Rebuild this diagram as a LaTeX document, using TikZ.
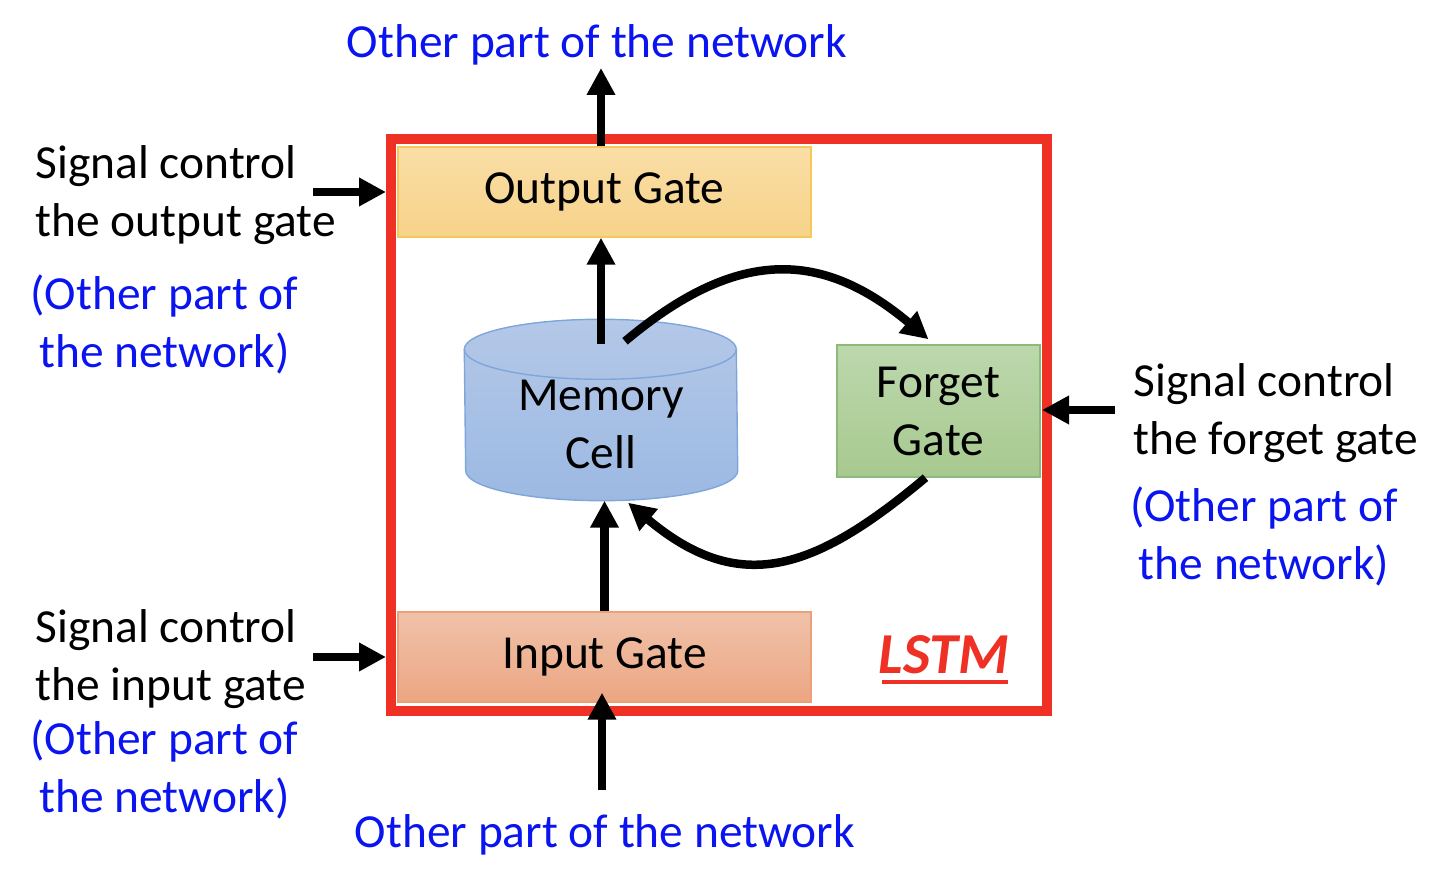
\documentclass[tikz,border=0pt]{standalone}
\usepackage{xcolor}
\usepackage{fontspec}
\setmainfont{Carlito}
\usepackage{tikz}
\usetikzlibrary{shapes, shapes.geometric, arrows.meta, positioning, calc}

\definecolor{framered}{HTML}{EE3124}
\definecolor{netblue}{HTML}{0A14F0}
\definecolor{ogtop}{HTML}{FADEA6}
\definecolor{ogbot}{HTML}{F7D38A}
\definecolor{ogline}{HTML}{F6C858}
\definecolor{igtop}{HTML}{F0C2AA}
\definecolor{igbot}{HTML}{ECA682}
\definecolor{igline}{HTML}{EDA077}
\definecolor{fgtop}{HTML}{BCD8AD}
\definecolor{fgbot}{HTML}{A7C98F}
\definecolor{fgline}{HTML}{8DBA78}
\definecolor{memtop}{HTML}{B4C8E8}
\definecolor{membot}{HTML}{9CB9E2}
\definecolor{memline}{HTML}{7FA6DA}

\begin{document}
\begin{tikzpicture}[
    every node/.style={font=\fontsize{13.5}{16.5}\selectfont},
    gatebox/.style={draw, rectangle, line width=0.4pt, inner sep=0pt, align=center},
    arr/.style={-{Triangle[length=0.27cm, width=0.27cm]}, line width=0.085cm, black},
    nettext/.style={text=netblue, align=center, inner sep=0pt},
    sigtext/.style={align=left, inner sep=0pt, anchor=west}
]
    \useasboundingbox (0,0) rectangle (14.5,8.9);

    % LSTM frame
    \node[draw=framered, line width=0.1cm, rectangle, minimum width=6.56cm, minimum height=5.72cm, inner sep=0pt] (frame) at (7.19,4.65) {};

    % gates
    \node[gatebox, draw=ogline, top color=ogtop, bottom color=ogbot, minimum width=4.13cm, minimum height=0.9cm] (og) at (6.045,6.98) {Output Gate};
    \node[gatebox, draw=igline, top color=igtop, bottom color=igbot, minimum width=4.13cm, minimum height=0.9cm] (ig) at (6.045,2.33) {Input Gate};
    \node[gatebox, draw=fgline, top color=fgtop, bottom color=fgbot, minimum width=2.03cm, minimum height=1.32cm] (fg) at (9.385,4.79) {Forget\\Gate};

    % memory cell (cylinder drawn on its node)
    \node[rectangle, minimum width=2.72cm, minimum height=1.8cm, inner sep=0pt] (mem) at (6.01,4.80) {};
    \path[draw=memline, line width=0.4pt, top color=memtop, bottom color=membot]
        ($(mem.north west)+(0,-0.3)$) arc[start angle=180, end angle=0, x radius=1.36cm, y radius=0.3cm]
        -- ($(mem.south east)+(0,0.3)$) arc[start angle=0, end angle=-180, x radius=1.36cm, y radius=0.3cm]
        -- cycle;
    \draw[memline, line width=0.4pt] ($(mem.north west)+(0,-0.3)$) arc[start angle=180, end angle=360, x radius=1.36cm, y radius=0.3cm];
    \node[align=center, inner sep=0pt] (memlbl) at ($(mem.center)+(0,-0.14)$) {Memory\\Cell};

    \node[text=framered, font=\fontsize{16.5}{19}\selectfont\bfseries\itshape, inner sep=0pt] (lstm) at (9.44,2.35) {LSTM};
    \draw[framered, line width=0.035cm] (8.82,2.08) -- (10.08,2.08);

    % texts outside
    \node[nettext] (topnet) at (5.97,8.45) {Other part of the network};
    \node[nettext] (botnet) at (6.05,0.55) {Other part of the network};
    \node[sigtext] (sigo) at (0.35,6.95) {Signal control\\the output gate};
    \node[nettext] (neto) at (1.645,5.66) {(Other part of\\the network)};
    \node[sigtext] (sigi) at (0.35,2.31) {Signal control\\the input gate};
    \node[nettext] (neti) at (1.645,1.21) {(Other part of\\the network)};
    \node[sigtext] (sigf) at (11.33,4.77) {Signal control\\the forget gate};
    \node[nettext] (netf) at (12.64,3.54) {(Other part of\\the network)};

    % free ends
    \coordinate (topend) at (6.01,8.22);
    \coordinate (botstart) at (6.02,1.0);
    \coordinate (ostart) at (3.13,6.98);
    \coordinate (istart) at (3.13,2.33);
    \coordinate (fstart) at (11.15,4.80);

    % connectors
    \draw[arr] (og.north -| topend) -- (topend);
    \draw[arr] ($(mem.north)+(0,-0.25)$) -- (og.south -| mem.north);
    \draw[arr] (ig.north) -- (mem.south -| ig.north);
    \draw[arr] (botstart) -- ($(ig.south -| botstart)+(0,0.1)$);
    \draw[arr] (ostart) -- (ostart -| frame.west);
    \draw[arr] (istart) -- (istart -| frame.west);
    \draw[arr] (fstart) -- ($(fstart -| frame.east)+(-0.1,0)$);
    \draw[arr] ($(mem.north)+(0.24,-0.22)$) to[out=40, in=140, looseness=1.2] ($(fg.north)+(-0.1,0.05)$);
    \draw[arr] ($(fg.south)+(-0.13,0)$) to[out=-140, in=-40, looseness=1.25] ($(mem.south)+(0.27,-0.02)$);
\end{tikzpicture}
\end{document}
